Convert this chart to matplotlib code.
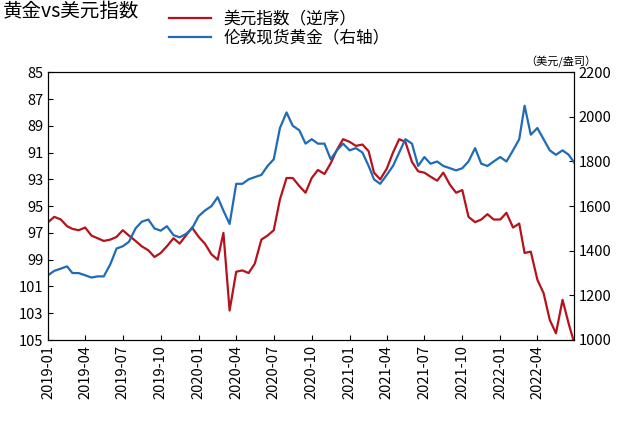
import matplotlib.pyplot as plt
import matplotlib.dates as mdates
from matplotlib import font_manager
import pandas as pd

cjk = [f.name for f in font_manager.fontManager.ttflist if 'CJK' in f.name]
plt.rcParams['font.family'] = ['Noto Sans CJK SC', 'Noto Sans CJK JP'] + sorted(set(cjk)) + ['DejaVu Sans']

# semi-monthly observations
dates = pd.to_datetime(
    [f'{y}-{m:02d}-{d:02d}' for y in range(2019, 2022) for m in range(1, 13) for d in (1, 16)]
    + [f'2022-{m:02d}-{d:02d}' for m in range(1, 8) for d in (1, 16)])

dxy = [96.2, 95.8, 96.0, 96.5, 96.7, 96.8, 96.6, 97.2, 97.4, 97.6, 97.5, 97.3,
       96.8, 97.2, 97.6, 98.0, 98.3, 98.8, 98.5, 98.0, 97.4, 97.8, 97.2, 96.6,
       97.3, 97.8, 98.6, 99.0, 97.0, 102.8, 99.9, 99.8, 100.0, 99.3, 97.5, 97.2,
       96.8, 94.5, 92.9, 92.9, 93.5, 94.0, 92.9, 92.3, 92.6, 91.8, 90.8, 90.0,
       90.2, 90.5, 90.4, 90.9, 92.5, 93.0, 92.2, 91.0, 90.0, 90.2, 91.7, 92.4,
       92.5, 92.8, 93.1, 92.5, 93.4, 94.0, 93.8, 95.8, 96.2, 96.0, 95.6, 96.0,
       96.0, 95.5, 96.6, 96.3, 98.5, 98.4, 100.5, 101.5, 103.5, 104.5, 102.0, 103.8,
       105.4, 107.0]

gold = [1290, 1310, 1320, 1330, 1300, 1300, 1290, 1280, 1285, 1285, 1340, 1410,
        1420, 1440, 1500, 1530, 1540, 1500, 1490, 1510, 1470, 1460, 1475, 1500,
        1555, 1580, 1600, 1640, 1580, 1520, 1700, 1700, 1720, 1730, 1740, 1780,
        1810, 1950, 2020, 1960, 1940, 1880, 1900, 1880, 1880, 1810, 1850, 1880,
        1850, 1860, 1840, 1780, 1720, 1700, 1740, 1780, 1840, 1900, 1880, 1780,
        1820, 1790, 1800, 1780, 1770, 1760, 1770, 1800, 1860, 1790, 1780, 1800,
        1820, 1800, 1850, 1900, 2050, 1920, 1950, 1900, 1850, 1830, 1850, 1830,
        1790, 1800]

fig, ax = plt.subplots(figsize=(6.41, 4.25), dpi=100)
fig.subplots_adjust(left=0.075, right=0.895, top=0.83, bottom=0.2)

l1, = ax.plot(dates, dxy, color='#b5121b', lw=1.6, label='美元指数（逆序）')
ax.set_ylim(105, 85)
ax.set_yticks(range(85, 106, 2))

ax2 = ax.twinx()
l2, = ax2.plot(dates, gold, color='#1f6bb5', lw=1.6, label='伦敦现货黄金（右轴）')
ax2.set_ylim(1000, 2200)
ax2.set_yticks(range(1000, 2201, 200))

ax.set_xlim(pd.Timestamp('2019-01-01'), pd.Timestamp('2022-06-28'))
ax.xaxis.set_major_locator(mdates.MonthLocator(bymonth=[1, 4, 7, 10]))
ax.xaxis.set_major_formatter(mdates.DateFormatter('%Y-%m'))
plt.setp(ax.get_xticklabels(), rotation=90)
for a in (ax, ax2):
    a.tick_params(labelsize=10.5, direction='in')

fig.text(0.005, 0.96, '黄金vs美元指数', fontsize=14)
fig.legend(handles=[l1, l2], loc='upper left', bbox_to_anchor=(0.24, 1.01),
           frameon=False, fontsize=12, handlelength=2.5, labelspacing=0.1)
fig.text(0.82, 0.845, '（美元/盎司）', fontsize=8)

fig.savefig('out.png')
